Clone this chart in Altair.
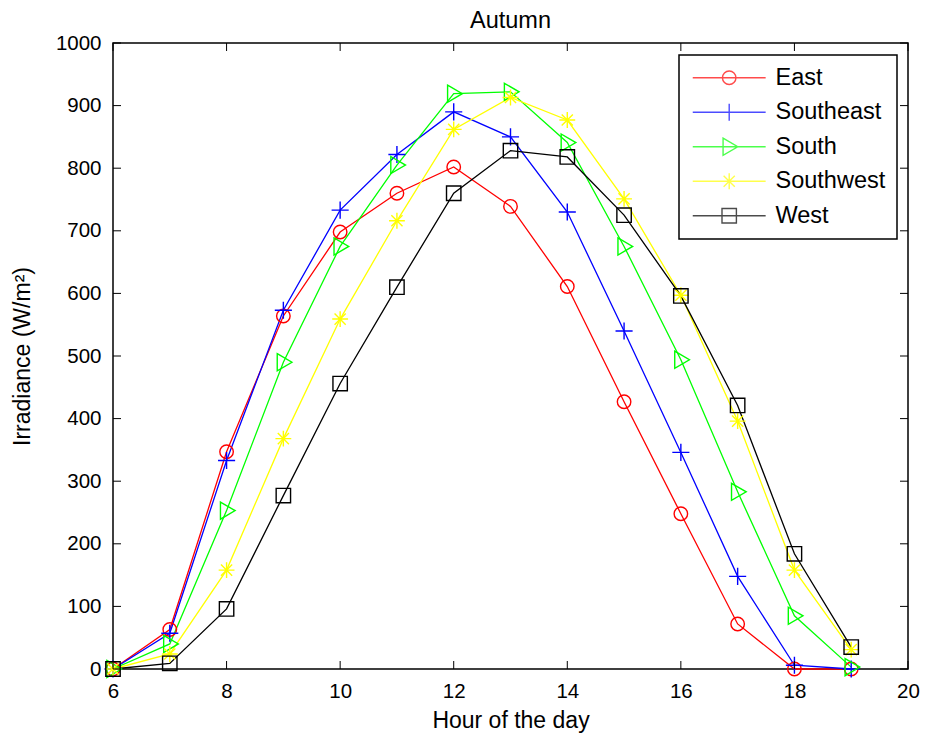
import altair as alt
import pandas as pd

hours = list(range(6, 20))
series_names = ["East", "Southeast", "South", "Southwest", "West"]
east = [0, 63, 347, 564, 698, 760, 802, 739, 611, 427, 248, 72, 0, 0]
southeast = [0, 57, 333, 573, 733, 822, 890, 850, 730, 540, 346, 148, 6, 0]
south = [0, 40, 253, 490, 675, 805, 919, 922, 841, 675, 494, 283, 85, 3]
southwest = [0, 24, 158, 368, 559, 716, 862, 913, 877, 751, 597, 396, 158, 31]
west = [0, 9, 96, 277, 456, 610, 760, 828, 818, 725, 596, 421, 184, 35]
colors = ["#ff0000", "#0000ff", "#00ff00", "#ffff00", "#000000"]
x_ticks = [6, 8, 10, 12, 14, 16, 18, 20]
y_ticks = [0, 100, 200, 300, 400, 500, 600, 700, 800, 900, 1000]

rows = []
for name, vals in zip(series_names, [east, southeast, south, southwest, west]):
    for h, v in zip(hours, vals):
        rows.append({"hour": h, "irr": v, "dir": name})
df = pd.DataFrame(rows)


def fmt(v):
    return f"{v:.3f}"


def marker(kind, s, dx=0.0):
    # custom symbol paths in units where 1 = 9 px (size 324)
    if kind == "circle":
        r = 0.75 * s
        return (f"M{fmt(dx + r)},0A{fmt(r)},{fmt(r)} 0 1,1 {fmt(dx - r)},0"
                f"A{fmt(r)},{fmt(r)} 0 1,1 {fmt(dx + r)},0Z")
    if kind == "plus":
        a = 0.95 * s
        return f"M{fmt(dx - a)},0H{fmt(dx + a)}M{fmt(dx)},{fmt(-a)}V{fmt(a)}"
    if kind == "tri":
        return (f"M{fmt(dx - 0.68 * s)},{fmt(-0.95 * s)}L{fmt(dx + 0.95 * s)},0"
                f"L{fmt(dx - 0.68 * s)},{fmt(0.95 * s)}Z")
    if kind == "star":
        a = 0.88 * s
        d = 0.62 * s
        return (f"M{fmt(dx - a)},0H{fmt(dx + a)}M{fmt(dx)},{fmt(-a)}V{fmt(a)}"
                f"M{fmt(dx - d)},{fmt(-d)}L{fmt(dx + d)},{fmt(d)}"
                f"M{fmt(dx - d)},{fmt(d)}L{fmt(dx + d)},{fmt(-d)}")
    if kind == "square":
        a = 0.8 * s
        return f"M{fmt(dx - a)},{fmt(-a)}H{fmt(dx + a)}V{fmt(a)}H{fmt(dx - a)}Z"


kinds = ["circle", "plus", "tri", "star", "square"]
point_shapes = [marker(k, 1.0) for k in kinds]
legend_shapes = [f"M-1,0H7.1" + marker(k, 1.0, 3.05) for k in kinds]

W, H = 795, 626
FONT = "Liberation Sans"

xscale = alt.Scale(domain=[6, 20], nice=False, zero=False)
yscale = alt.Scale(domain=[0, 1000], nice=False)
cscale = alt.Scale(domain=series_names, range=colors)

xaxis = alt.Axis(values=x_ticks, ticks=False, domain=False, grid=False,
                 labelFontSize=20.5, labelPadding=12, labelFont=FONT,
                 labelColor="black", labelFlush=False, title="Hour of the day",
                 titleFontSize=23, titleFont=FONT, titleFontWeight="normal",
                 titleColor="black", titlePadding=8)
yaxis = alt.Axis(values=y_ticks, ticks=False, domain=False, grid=False,
                 labelFontSize=20.5, labelPadding=12, labelFont=FONT,
                 labelColor="black", labelFlush=False, format="d",
                 title="Irradiance (W/m²)", titleFontSize=23, titleFont=FONT,
                 titleFontWeight="normal", titleColor="black", titlePadding=21)

base = alt.Chart(df)

lines = base.mark_line(strokeWidth=1.3).encode(
    x=alt.X("hour:Q", scale=xscale, axis=xaxis),
    y=alt.Y("irr:Q", scale=yscale, axis=yaxis),
    color=alt.Color("dir:N", scale=cscale, legend=None),
    detail="dir:N",
    order=alt.Order("hour:Q"),
)

points = base.mark_point(filled=False, strokeWidth=1.4, size=324, opacity=1).encode(
    x=alt.X("hour:Q", scale=xscale, axis=xaxis),
    y=alt.Y("irr:Q", scale=yscale, axis=yaxis),
    color=alt.Color("dir:N", scale=cscale, legend=None),
    shape=alt.Shape("dir:N", scale=alt.Scale(domain=series_names, range=point_shapes), legend=None),
)

leg = alt.Legend(title=None, orient="none", legendX=566, legendY=12,
                 labelFontSize=23.5, labelFont=FONT, labelColor="black",
                 symbolSize=324, symbolStrokeWidth=1.4,
                 labelOffset=62, rowPadding=9.5, padding=11,
                 strokeColor="black", fillColor="white")

legend_layer = base.transform_filter("false").mark_point(
    filled=False, strokeWidth=1.4, size=324).encode(
    x=alt.X("hour:Q", scale=xscale, axis=xaxis),
    y=alt.Y("irr:Q", scale=yscale, axis=yaxis),
    color=alt.Color("dir:N", scale=cscale, legend=leg),
    shape=alt.Shape("dir:N", scale=alt.Scale(domain=series_names, range=legend_shapes),
                    legend=leg),
)

xt = alt.Chart(pd.DataFrame({"hour": x_ticks}))
yt = alt.Chart(pd.DataFrame({"irr": y_ticks}))
TL = 8
tick_bottom = xt.mark_rule(color="black", strokeWidth=1).encode(
    x=alt.X("hour:Q", scale=xscale, axis=xaxis), y=alt.value(H), y2=alt.value(H - TL))
tick_top = xt.mark_rule(color="black", strokeWidth=1).encode(
    x=alt.X("hour:Q", scale=xscale, axis=xaxis), y=alt.value(0), y2=alt.value(TL))
tick_left = yt.mark_rule(color="black", strokeWidth=1).encode(
    y=alt.Y("irr:Q", scale=yscale, axis=yaxis), x=alt.value(0), x2=alt.value(TL))
tick_right = yt.mark_rule(color="black", strokeWidth=1).encode(
    y=alt.Y("irr:Q", scale=yscale, axis=yaxis), x=alt.value(W), x2=alt.value(W - TL))

chart = alt.layer(
    lines, points, legend_layer, tick_bottom, tick_top, tick_left, tick_right
).resolve_scale(color="independent", shape="independent").properties(
    width=W, height=H,
    title=alt.Title("Autumn", fontSize=23.5, font=FONT, fontWeight="normal",
                    color="black", offset=1),
    autosize=alt.AutoSizeParams(type="none"),
    padding={"left": 113, "top": 43, "right": 17, "bottom": 69},
).configure(background="white").configure_view(
    stroke="black", strokeWidth=1.5).configure_legend(strokeWidth=1.5)

chart.save("out.html", embed_options={"renderer": "svg", "actions": False})
